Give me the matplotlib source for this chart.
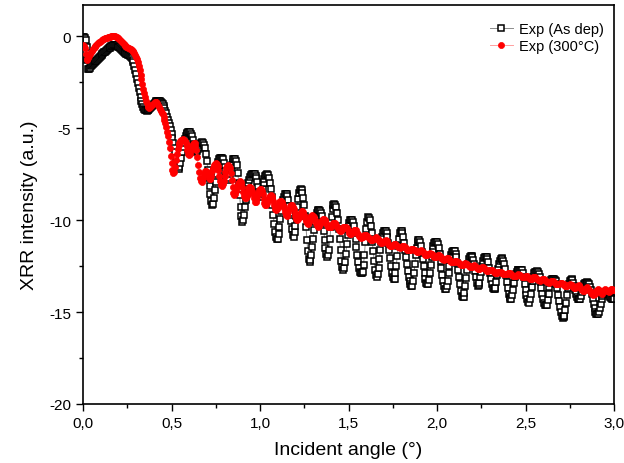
import numpy as np
import matplotlib
matplotlib.use("Agg")
import matplotlib.pyplot as plt
from matplotlib.ticker import MultipleLocator, FuncFormatter

plt.rcParams['font.family'] = ['Liberation Sans', 'DejaVu Sans']
plt.rcParams['axes.unicode_minus'] = False

# incident angle grid, 0.005 deg steps from 0 to 3 deg
angle = np.round(np.linspace(0.0, 3.0, 601), 3)

as_dep = [
    -0.05, -0.05, -0.10, -0.20, -0.60, -1.30, -1.80, -1.78, -1.70, -1.64,
    -1.58, -1.52, -1.47, -1.42, -1.37, -1.32, -1.27, -1.22, -1.17, -1.12,
    -1.07, -1.02, -0.97, -0.92, -0.88, -0.83, -0.79, -0.74, -0.70, -0.66,
    -0.62, -0.58, -0.55, -0.52, -0.49, -0.47, -0.45, -0.46, -0.48, -0.52,
    -0.56, -0.61, -0.66, -0.71, -0.76, -0.80, -0.84, -0.88, -0.91, -0.94,
    -0.97, -1.00, -1.04, -1.08, -1.13, -1.20, -1.28, -1.42, -1.60, -1.82,
    -2.05, -2.30, -2.55, -2.80, -3.05, -3.28, -3.50, -3.68, -3.85, -3.94,
    -4.00, -4.03, -4.05, -4.03, -4.00, -3.95, -3.90, -3.84, -3.78, -3.72,
    -3.66, -3.61, -3.57, -3.54, -3.52, -3.51, -3.52, -3.54, -3.58, -3.63,
    -3.70, -3.79, -3.90, -4.04, -4.20, -4.37, -4.55, -4.72, -4.90, -5.10,
    -5.30, -5.55, -5.80, -6.05, -6.30, -6.60, -6.90, -7.10, -7.20, -7.10,
    -6.90, -6.60, -6.30, -6.03, -5.80, -5.60, -5.45, -5.33, -5.25, -5.21,
    -5.20, -5.23, -5.30, -5.45, -5.65, -5.88, -6.10, -6.24, -6.30, -6.25,
    -6.15, -6.02, -5.90, -5.82, -5.78, -5.77, -5.80, -5.90, -6.10, -6.42,
    -6.80, -7.25, -7.70, -8.15, -8.60, -8.95, -9.20, -9.10, -8.80, -8.35,
    -7.90, -7.48, -7.10, -6.86, -6.70, -6.62, -6.60, -6.63, -6.70, -6.87,
    -7.10, -7.35, -7.60, -7.75, -7.80, -7.70, -7.50, -7.25, -7.00, -6.82,
    -6.70, -6.65, -6.65, -6.78, -7.00, -7.45, -8.00, -8.65, -9.30, -9.80,
    -10.10, -10.00, -9.70, -9.30, -8.90, -8.53, -8.20, -7.97, -7.80, -7.66,
    -7.55, -7.51, -7.50, -7.49, -7.50, -7.58, -7.70, -7.93, -8.20, -8.48,
    -8.70, -8.72, -8.60, -8.32, -8.00, -7.76, -7.60, -7.53, -7.50, -7.57,
    -7.70, -7.97, -8.30, -8.73, -9.20, -9.70, -10.20, -10.62, -10.90, -11.02,
    -11.00, -10.75, -10.40, -9.95, -9.50, -9.17, -8.90, -8.72, -8.60, -8.57,
    -8.60, -8.71, -8.90, -9.22, -9.60, -10.05, -10.50, -10.80, -10.90, -10.67,
    -10.30, -9.80, -9.30, -8.86, -8.50, -8.35, -8.30, -8.36, -8.50, -8.80,
    -9.20, -9.78, -10.40, -11.08, -11.70, -12.10, -12.30, -12.18, -11.90, -11.48,
    -11.00, -10.53, -10.10, -9.80, -9.60, -9.50, -9.45, -9.46, -9.50, -9.62,
    -9.80, -10.17, -10.60, -11.07, -11.50, -11.85, -12.00, -11.88, -11.60, -11.02,
    -10.40, -9.85, -9.40, -9.18, -9.10, -9.15, -9.30, -9.60, -10.00, -10.48,
    -11.00, -11.63, -12.20, -12.55, -12.70, -12.60, -12.30, -11.82, -11.30, -10.82,
    -10.40, -10.15, -10.00, -9.97, -10.00, -10.12, -10.30, -10.62, -11.00, -11.45,
    -11.90, -12.30, -12.60, -12.80, -12.90, -12.90, -12.80, -12.42, -11.90, -11.20,
    -10.50, -10.08, -9.85, -9.87, -10.00, -10.32, -10.70, -11.18, -11.70, -12.22,
    -12.70, -13.00, -13.10, -12.92, -12.60, -12.10, -11.60, -11.20, -10.90, -10.70,
    -10.60, -10.57, -10.60, -10.72, -10.90, -11.22, -11.60, -12.05, -12.50, -12.85,
    -13.10, -13.20, -13.20, -12.90, -12.50, -11.95, -11.40, -11.00, -10.70, -10.60,
    -10.60, -10.70, -10.90, -11.22, -11.60, -12.00, -12.40, -12.78, -13.10, -13.33,
    -13.50, -13.58, -13.60, -13.30, -12.90, -12.40, -11.90, -11.50, -11.20, -11.10,
    -11.10, -11.20, -11.40, -11.73, -12.10, -12.50, -12.90, -13.20, -13.40, -13.50,
    -13.50, -13.25, -12.90, -12.45, -12.00, -11.66, -11.40, -11.27, -11.20, -11.18,
    -11.20, -11.32, -11.50, -11.83, -12.20, -12.60, -13.00, -13.33, -13.60, -13.72,
    -13.75, -13.58, -13.30, -12.90, -12.50, -12.17, -11.90, -11.76, -11.70, -11.68,
    -11.70, -11.82, -12.00, -12.33, -12.70, -13.10, -13.50, -13.83, -14.10, -14.20,
    -14.20, -13.95, -13.60, -13.15, -12.70, -12.36, -12.10, -11.98, -11.95, -11.96,
    -12.00, -12.17, -12.40, -12.75, -13.10, -13.40, -13.60, -13.55, -13.40, -13.12,
    -12.80, -12.48, -12.20, -12.07, -12.00, -11.99, -12.00, -12.12, -12.30, -12.58,
    -12.90, -13.22, -13.50, -13.68, -13.75, -13.76, -13.70, -13.38, -13.00, -12.68,
    -12.40, -12.22, -12.10, -12.08, -12.10, -12.22, -12.40, -12.68, -13.00, -13.36,
    -13.70, -14.00, -14.20, -14.28, -14.30, -14.08, -13.80, -13.43, -13.10, -12.92,
    -12.80, -12.73, -12.70, -12.69, -12.70, -12.70, -12.70, -12.85, -13.10, -13.45,
    -13.80, -14.08, -14.30, -14.44, -14.50, -14.28, -14.00, -13.62, -13.30, -13.07,
    -12.90, -12.83, -12.80, -12.79, -12.80, -12.93, -13.10, -13.38, -13.70, -14.02,
    -14.30, -14.50, -14.60, -14.62, -14.60, -14.32, -14.00, -13.66, -13.40, -13.27,
    -13.20, -13.19, -13.20, -13.24, -13.30, -13.47, -13.70, -14.05, -14.40, -14.72,
    -15.00, -15.20, -15.30, -15.28, -15.20, -14.88, -14.50, -14.08, -13.70, -13.46,
    -13.30, -13.23, -13.20, -13.27, -13.40, -13.58, -13.80, -14.02, -14.20, -14.27,
    -14.30, -14.31, -14.30, -14.12, -13.90, -13.68, -13.50, -13.43, -13.40, -13.39,
    -13.40, -13.43, -13.50, -13.63, -13.80, -14.03, -14.30, -14.56, -14.80, -14.98,
    -15.10, -15.12, -15.10, -14.97, -14.80, -14.55, -14.30, -14.13, -14.00, -13.93,
    -13.90, -13.89, -13.90, -13.94, -14.00, -14.10, -14.20, -14.26, -14.30, -14.30,
    -14.30,
]

annealed_300 = [
    -0.50, -0.55, -0.65, -0.95, -1.25, -1.30, -1.20, -1.08, -0.98, -0.88,
    -0.80, -0.72, -0.65, -0.58, -0.52, -0.47, -0.42, -0.37, -0.33, -0.29,
    -0.25, -0.22, -0.19, -0.16, -0.13, -0.11, -0.09, -0.07, -0.05, -0.04,
    -0.03, -0.02, -0.01, 0.00, 0.00, 0.00, -0.01, -0.03, -0.05, -0.08,
    -0.11, -0.15, -0.19, -0.24, -0.29, -0.35, -0.41, -0.47, -0.52, -0.56,
    -0.60, -0.63, -0.66, -0.69, -0.72, -0.76, -0.80, -0.86, -0.93, -1.02,
    -1.12, -1.25, -1.40, -1.60, -1.85, -2.10, -2.35, -2.60, -2.85, -3.08,
    -3.30, -3.50, -3.65, -3.77, -3.85, -3.88, -3.87, -3.82, -3.75, -3.68,
    -3.62, -3.58, -3.57, -3.59, -3.65, -3.74, -3.85, -3.95, -4.05, -4.15,
    -4.25, -4.38, -4.55, -4.74, -4.95, -5.18, -5.45, -5.75, -6.10, -6.50,
    -6.90, -7.25, -7.45, -7.40, -7.10, -6.72, -6.40, -6.12, -5.90, -5.78,
    -5.70, -5.65, -5.62, -5.60, -5.62, -5.68, -5.80, -5.98, -6.20, -6.38,
    -6.45, -6.38, -6.20, -5.98, -5.85, -5.78, -5.80, -5.95, -6.20, -6.58,
    -7.00, -7.38, -7.70, -7.85, -7.90, -7.82, -7.70, -7.50, -7.35, -7.33,
    -7.40, -7.55, -7.70, -7.78, -7.75, -7.58, -7.35, -7.15, -7.00, -6.93,
    -6.90, -6.95, -7.05, -7.30, -7.60, -7.88, -8.10, -8.12, -8.05, -7.85,
    -7.60, -7.36, -7.15, -7.05, -7.00, -7.05, -7.15, -7.45, -7.80, -8.18,
    -8.50, -8.62, -8.60, -8.42, -8.20, -8.02, -7.90, -7.87, -7.90, -8.02,
    -8.20, -8.47, -8.70, -8.80, -8.80, -8.67, -8.50, -8.32, -8.20, -8.20,
    -8.25, -8.40, -8.60, -8.82, -9.00, -9.00, -8.90, -8.72, -8.50, -8.37,
    -8.30, -8.32, -8.40, -8.60, -8.85, -9.07, -9.20, -9.17, -9.05, -8.90,
    -8.75, -8.67, -8.65, -8.70, -8.80, -8.98, -9.20, -9.37, -9.45, -9.42,
    -9.30, -9.15, -9.00, -8.95, -8.95, -9.03, -9.15, -9.35, -9.55, -9.70,
    -9.75, -9.68, -9.55, -9.40, -9.25, -9.20, -9.20, -9.28, -9.40, -9.60,
    -9.80, -9.95, -10.00, -9.95, -9.85, -9.70, -9.55, -9.50, -9.50, -9.58,
    -9.70, -9.88, -10.05, -10.17, -10.20, -10.12, -10.00, -9.85, -9.75, -9.70,
    -9.75, -9.85, -10.00, -10.15, -10.25, -10.33, -10.35, -10.30, -10.20, -10.08,
    -10.00, -9.96, -9.95, -9.98, -10.05, -10.15, -10.25, -10.35, -10.40, -10.40,
    -10.35, -10.27, -10.20, -10.16, -10.15, -10.18, -10.25, -10.35, -10.45, -10.55,
    -10.60, -10.60, -10.55, -10.47, -10.40, -10.36, -10.35, -10.38, -10.45, -10.52,
    -10.60, -10.70, -10.75, -10.74, -10.70, -10.62, -10.55, -10.54, -10.55, -10.62,
    -10.70, -10.78, -10.85, -10.92, -10.95, -10.94, -10.90, -10.85, -10.80, -10.79,
    -10.80, -10.84, -10.90, -10.98, -11.05, -11.09, -11.10, -11.08, -11.05, -11.00,
    -10.95, -10.94, -10.95, -11.02, -11.10, -11.16, -11.20, -11.24, -11.25, -11.20,
    -11.15, -11.12, -11.10, -11.14, -11.20, -11.28, -11.35, -11.38, -11.40, -11.38,
    -11.35, -11.32, -11.30, -11.32, -11.35, -11.40, -11.45, -11.48, -11.50, -11.48,
    -11.45, -11.42, -11.40, -11.42, -11.45, -11.53, -11.60, -11.63, -11.65, -11.63,
    -11.60, -11.57, -11.55, -11.57, -11.60, -11.65, -11.70, -11.73, -11.75, -11.73,
    -11.70, -11.67, -11.65, -11.70, -11.75, -11.80, -11.85, -11.88, -11.90, -11.88,
    -11.85, -11.82, -11.80, -11.82, -11.85, -11.90, -11.95, -11.98, -12.00, -11.98,
    -11.95, -11.92, -11.90, -11.95, -12.00, -12.05, -12.10, -12.13, -12.15, -12.13,
    -12.10, -12.07, -12.05, -12.10, -12.15, -12.20, -12.25, -12.28, -12.30, -12.25,
    -12.20, -12.20, -12.20, -12.25, -12.30, -12.35, -12.40, -12.43, -12.45, -12.43,
    -12.40, -12.37, -12.35, -12.37, -12.40, -12.45, -12.50, -12.53, -12.55, -12.53,
    -12.50, -12.47, -12.45, -12.50, -12.55, -12.60, -12.65, -12.65, -12.65, -12.63,
    -12.60, -12.57, -12.55, -12.60, -12.65, -12.70, -12.75, -12.75, -12.75, -12.73,
    -12.70, -12.70, -12.70, -12.75, -12.80, -12.83, -12.85, -12.85, -12.85, -12.83,
    -12.80, -12.80, -12.80, -12.85, -12.90, -12.93, -12.95, -12.95, -12.95, -12.93,
    -12.90, -12.90, -12.90, -12.92, -12.95, -13.00, -13.05, -13.05, -13.05, -13.03,
    -13.00, -12.97, -12.95, -12.97, -13.00, -13.05, -13.10, -13.10, -13.10, -13.08,
    -13.05, -13.05, -13.05, -13.10, -13.15, -13.18, -13.20, -13.18, -13.15, -13.12,
    -13.10, -13.12, -13.15, -13.20, -13.25, -13.28, -13.30, -13.28, -13.25, -13.22,
    -13.20, -13.22, -13.25, -13.30, -13.35, -13.38, -13.40, -13.38, -13.35, -13.32,
    -13.30, -13.32, -13.35, -13.40, -13.45, -13.48, -13.50, -13.48, -13.45, -13.42,
    -13.40, -13.42, -13.45, -13.50, -13.55, -13.58, -13.60, -13.58, -13.55, -13.52,
    -13.50, -13.52, -13.55, -13.60, -13.65, -13.68, -13.70, -13.65, -13.60, -13.57,
    -13.55, -13.60, -13.65, -13.72, -13.80, -13.83, -13.85, -13.78, -13.70, -13.67,
    -13.65, -13.72, -13.80, -13.88, -13.95, -14.00, -14.05, -14.03, -14.00, -13.93,
    -13.85, -13.80, -13.75, -13.82, -13.90, -13.95, -14.00, -13.93, -13.85, -13.80,
    -13.75, -13.80, -13.85, -13.88, -13.90, -13.85, -13.80, -13.77, -13.75, -13.78,
    -13.80,
]

x_ticks = [0.0, 0.5, 1.0, 1.5, 2.0, 2.5, 3.0]
y_ticks = [0, -5, -10, -15, -20]

fig = plt.figure(figsize=(6.24, 4.64), dpi=100)
ax = fig.add_axes([83 / 624, 59 / 464, 531 / 624, 399 / 464])

ax.plot(angle, as_dep, color='#8c8c8c', lw=0.7, marker='s', ms=4.0,
        mfc='white', mec='black', mew=1.1, label='Exp (As dep)', zorder=2)
ax.plot(angle, annealed_300, color='#ffa0a0', lw=0.7, marker='o', ms=4.4,
        mfc='red', mec='red', mew=0.5, label='Exp (300°C)', zorder=3)

ax.set_xlim(0, 3.0)
ax.set_ylim(-20, 1.7)
ax.set_xticks(x_ticks)
ax.set_yticks(y_ticks)
ax.xaxis.set_minor_locator(MultipleLocator(0.25))
ax.yaxis.set_minor_locator(MultipleLocator(2.5))
ax.xaxis.set_major_formatter(FuncFormatter(lambda v, p: f"{v:.1f}".replace('.', ',')))
ax.yaxis.set_major_formatter(FuncFormatter(lambda v, p: f"{int(round(v))}"))
ax.tick_params(which='both', direction='out', top=False, right=False, labelsize=11)
ax.tick_params(which='major', length=5, width=1)
ax.tick_params(which='minor', length=3, width=1)
for s in ax.spines.values():
    s.set_linewidth(1.2)

ax.set_xlabel('Incident angle (°)', fontsize=14, labelpad=8)
ax.set_ylabel('XRR intensity (a.u.)', fontsize=14, labelpad=8)

leg = ax.legend(loc='upper right', bbox_to_anchor=(1.0, 0.983), frameon=False,
                fontsize=10.5, handlelength=1.6, handletextpad=0.4,
                labelspacing=0.2, borderaxespad=0.3, markerscale=1.0)

fig.savefig('out.png', dpi=100)
